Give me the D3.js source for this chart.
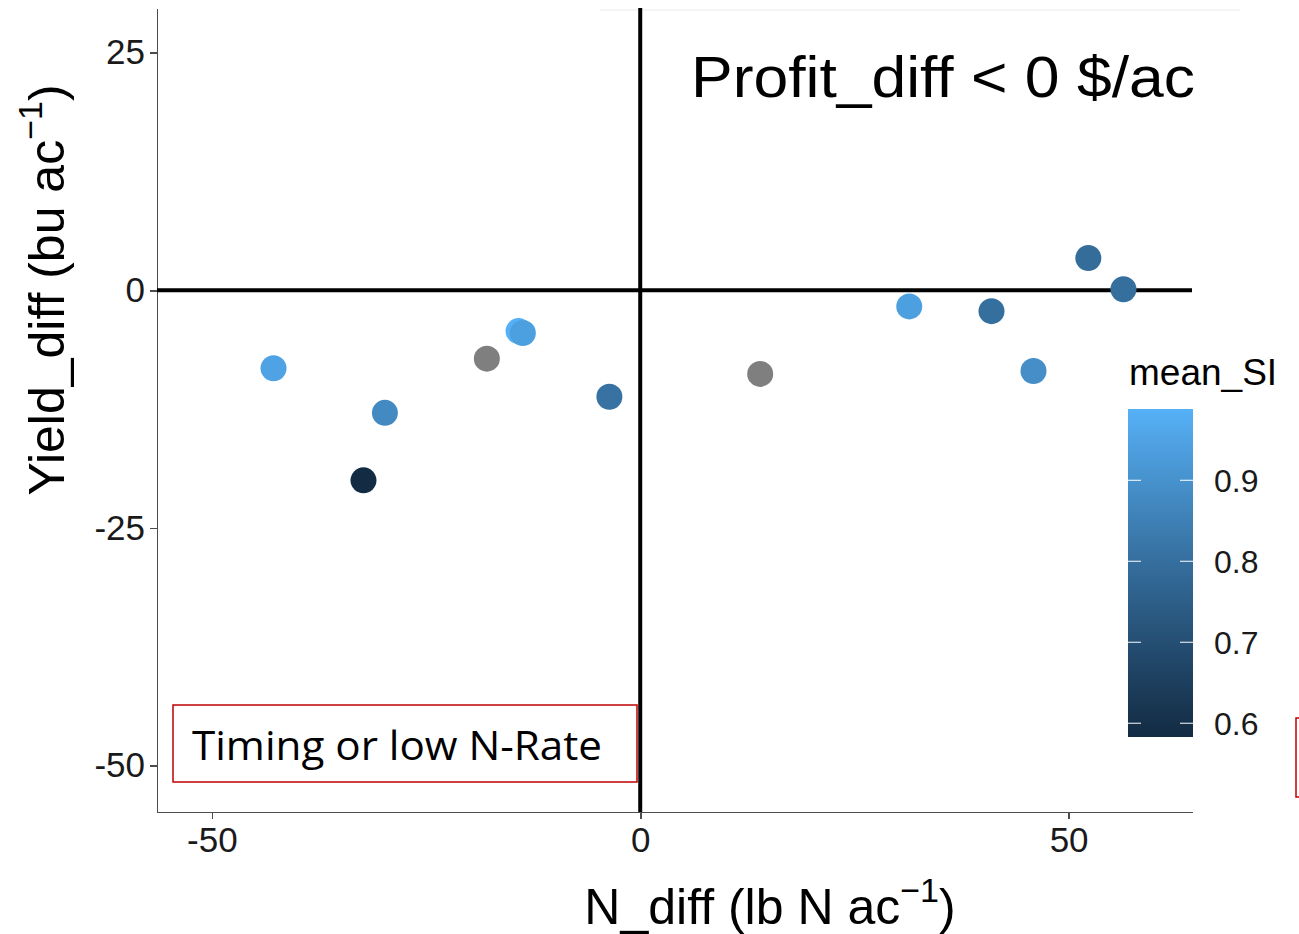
<!DOCTYPE html>
<meta charset="utf-8">
<style>
body { margin: 0; background: #fff; }
svg { font-family: "Liberation Sans", Arial, sans-serif; }
.axis path, .axis line { stroke: #4d4d4d; stroke-width: 1.6px; shape-rendering: crispEdges; }
.axis text { fill: #1a1a1a; font-size: 35px; }
</style>
<body>
<script src="https://d3js.org/d3.v7.min.js"></script>
<script>

// points: N_diff, Yield_diff, mean_SI (null = no SI, drawn grey)
var nDiff     = [-42.8, -29.8, -32.3, -17.9, -14.2, -13.7, -3.6, 14.0, 31.4, 41.0, 45.9, 52.3, 56.4];
var yieldDiff = [-8.2, -12.9, -20.0, -7.2, -4.3, -4.5, -11.2, -8.8, -1.7, -2.2, -8.5, 3.4, 0.1];
var meanSI    = [0.95, 0.88, 0.585, null, 0.985, 0.94, 0.81, null, 0.94, 0.80, 0.89, 0.79, 0.80];

var xTicks = [-50, 0, 50];
var yTicks = [-50, -25, 0, 25];
var siTicks = [0.6, 0.7, 0.8, 0.9];

var W = 1299, H = 934;
var svg = d3.select("body").append("svg").attr("width", W).attr("height", H);

var x = d3.scaleLinear().domain([-56.4, 64.4]).range([157, 1192]);
var y = d3.scaleLinear().domain([-54.9, 29.7]).range([812, 8]);
var col = d3.scaleLinear().domain([0.583, 0.988])
    .range(["#132B43", "#56B1F7"]).interpolate(d3.interpolateLab);

var data = nDiff.map(function(d, i) { return {x: d, y: yieldDiff[i], si: meanSI[i]}; });

// faint line along top
svg.append("line").attr("x1", 600).attr("x2", 1240).attr("y1", 10).attr("y2", 10)
    .style("stroke", "#f0f0f0").style("stroke-width", 1.5);

// axes (plain hyphen for negatives, like the original)
var fmt = function(d) { return String(d); };

svg.append("g").attr("class", "axis")
    .attr("transform", "translate(157,0)")
    .call(d3.axisLeft(y).tickValues(yTicks).tickFormat(fmt)
      .tickSizeInner(7).tickSizeOuter(0).tickPadding(5));

svg.append("g").attr("class", "axis")
    .attr("transform", "translate(0,812)")
    .call(d3.axisBottom(x).tickValues(xTicks).tickFormat(fmt)
      .tickSizeInner(7).tickSizeOuter(0).tickPadding(8));

svg.selectAll(".axis text").attr("font-family", "Liberation Sans, Arial, sans-serif");

// zero reference lines
svg.append("line").attr("x1", x(0)).attr("x2", x(0)).attr("y1", 8).attr("y2", 812)
    .style("stroke", "#000").style("stroke-width", 4);
svg.append("line").attr("x1", 157).attr("x2", 1192).attr("y1", y(0)).attr("y2", y(0))
    .style("stroke", "#000").style("stroke-width", 4);

// points
svg.selectAll(".dot").data(data).enter().append("circle")
    .attr("class", "dot")
    .attr("cx", function(d) { return x(d.x); })
    .attr("cy", function(d) { return y(d.y); })
    .attr("r", 13)
    .style("fill", function(d) { return d.si == null ? "#7f7f7f" : col(d.si); });

// annotation in top right
svg.append("text").attr("x", 691).attr("y", 97)
    .attr("textLength", 504).attr("lengthAdjust", "spacingAndGlyphs")
    .style("font-size", "58px").style("fill", "#000")
    .text("Profit_diff < 0 $/ac");

// red text box
svg.append("rect").attr("x", 173).attr("y", 705).attr("width", 464).attr("height", 77)
    .style("fill", "none").style("stroke", "#c00000").style("stroke-width", 1.5);
svg.append("text").attr("x", 192).attr("y", 760)
    .attr("textLength", 410).attr("lengthAdjust", "spacingAndGlyphs")
    .style("font-family", "'Open Sans', 'Noto Sans', sans-serif").style("font-size", "40px")
    .text("Timing or low N-Rate");

// clipped box on the right edge
svg.append("rect").attr("x", 1296).attr("y", 718).attr("width", 60).attr("height", 79)
    .style("fill", "none").style("stroke", "#c00000").style("stroke-width", 1.5);

// axis titles
var xt = svg.append("text").attr("x", 770).attr("y", 924).attr("text-anchor", "middle")
    .style("font-size", "50px");
xt.append("tspan").text("N_diff (lb N ac");
xt.append("tspan").attr("dy", -22).style("font-size", "34px").text("\u22121");
xt.append("tspan").attr("dy", 22).text(")");

var yt = svg.append("text").attr("transform", "translate(64,290) rotate(-90)")
    .attr("text-anchor", "middle").style("font-size", "50px");
yt.append("tspan").text("Yield_diff (bu ac");
yt.append("tspan").attr("dy", -22).style("font-size", "34px").text("\u22121");
yt.append("tspan").attr("dy", 22).text(")");

// colour legend
svg.append("text").attr("x", 1129).attr("y", 385).style("font-size", "37px").text("mean_SI");

var defs = svg.append("defs");
var grad = defs.append("linearGradient").attr("id", "sigrad")
    .attr("x1", 0).attr("x2", 0).attr("y1", 1).attr("y2", 0);
d3.range(0, 1.0001, 0.1).forEach(function(t) {
  grad.append("stop").attr("offset", t)
      .attr("stop-color", col(col.domain()[0] + t * (col.domain()[1] - col.domain()[0])));
});

var ly = d3.scaleLinear().domain(col.domain()).range([737, 409]);
svg.append("rect").attr("x", 1128).attr("y", 409).attr("width", 65).attr("height", 328)
    .style("fill", "url(#sigrad)");

var lt = svg.selectAll(".lt").data(siTicks).enter().append("g")
    .attr("transform", function(d) { return "translate(0," + ly(d) + ")"; });
lt.append("line").attr("x1", 1128).attr("x2", 1141).style("stroke", "#fff").style("stroke-width", 1);
lt.append("line").attr("x1", 1180).attr("x2", 1193).style("stroke", "#fff").style("stroke-width", 1);
lt.append("text").attr("x", 1214).attr("dy", "0.36em").style("font-size", "32px").style("fill", "#1a1a1a")
    .text(function(d) { return d.toFixed(1); });

</script>
